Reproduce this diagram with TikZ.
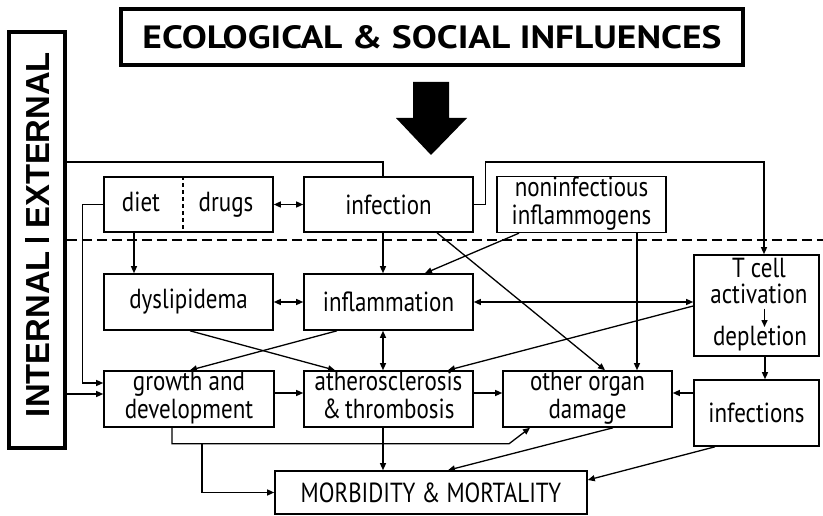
\documentclass[tikz,border=0pt]{standalone}
\usepackage{fontspec}
\setmainfont{PT Sans}
\newfontfamily\iefont{Liberation Sans}
\usetikzlibrary{arrows.meta}
\newcommand{\vs}[1]{\scalebox{1}[1.2]{#1}}
\newcommand{\vt}[1]{\scalebox{1}[1.2]{\begin{tabular}{@{}c@{}}#1\end{tabular}}}
\begin{document}
\begin{tikzpicture}[x=1pt,y=-1pt,
  txt/.style={inner sep=0pt,align=center,font=\fontsize{23}{23}\selectfont},
  box/.style={draw,line width=1.6pt,inner sep=0pt,align=center,font=\fontsize{23}{23}\selectfont},
  conn/.style={line width=1.3pt},
  arr/.style={conn,-{Triangle[length=7pt,width=6pt]}},
  darr/.style={conn,{Triangle[length=7pt,width=6pt]}-{Triangle[length=7pt,width=6pt]}}]
\useasboundingbox (0,0) rectangle (823,516);
% title and frame
\node[box,minimum width=622pt,minimum height=56pt,line width=3.5pt] (title) at (432,37)
  {\resizebox{579pt}{23pt}{\bfseries ECOLOGICAL \& SOCIAL INFLUENCES}};
\node[box,minimum width=56pt,minimum height=416pt,line width=3.5pt] (leftbox) at (37,240) {};
\node[rotate=90,inner sep=0pt] (ietext) at (37,234.5)
  {\resizebox{365pt}{24pt}{\iefont\bfseries INTERNAL\ \rule{0.13em}{0.72em}\ EXTERNAL}};
% big arrow
\fill (413,82) -- (449,82) -- (449,118) -- (467,118) -- (431,155) -- (396,118) -- (413,118) -- cycle;
% dashed line
\coordinate (dl) at (823,240);
\draw[conn,dash pattern=on 10pt off 5pt] (leftbox.east |- dl) -- (dl);
% boxes
\node[box,minimum width=169pt,minimum height=55pt] (dd) at (188.5,204.5) {};
\node[txt,anchor=base] (diet) at (141,212) {\vs{diet}};
\node[txt,anchor=base] (drugs) at (226,212) {\vs{drugs}};
\draw[conn,dash pattern=on 4pt off 3pt] ([xshift=-5.5pt]dd.north) -- ([xshift=-5.5pt]dd.south);
\node[box,minimum width=169pt,minimum height=55pt] (infection) at (388.5,204.5) {\vs{infection}};
\node[box,minimum width=169pt,minimum height=55pt] (noninf) at (581.5,204.5) {\vt{noninfectious\\inflammogens}};
\node[box,minimum width=169pt,minimum height=56pt] (dysl) at (188.5,302) {\vs{dyslipidema}};
\node[box,minimum width=169pt,minimum height=56pt] (inflam) at (388.5,302) {\vs{inflammation}};
\node[box,minimum width=170pt,minimum height=56pt] (growth) at (189,399) {\vt{growth and\\development}};
\node[box,minimum width=169pt,minimum height=56pt] (atheros) at (388.5,399) {\vt{atherosclerosis\\\&\,thrombosis}};
\node[box,minimum width=169pt,minimum height=56pt] (other) at (587.5,399) {\vt{other organ\\damage}};
\node[box,minimum width=125pt,minimum height=101pt] (tcell) at (756.5,305.5) {};
\node[txt,font=\fontsize{23}{18}\selectfont] (tca) at (759,284) {\vt{T cell\\activation}};
\node[txt] (tcd) at (760,338) {\vs{depletion}};
\node[box,minimum width=125pt,minimum height=66pt] (infections) at (756.5,413) {\vs{infections}};
\node[box,minimum width=312pt,minimum height=43pt] (morbidity) at (431,492.5) {\vs{MORBIDITY \& MORTALITY}};
% connectors
\coordinate (c162) at (0,162);
\draw[conn] (leftbox.east |- c162) -| ([xshift=-5.5pt]infection.north);
\coordinate (tcn) at ([xshift=7.5pt]tcell.north);
\draw[arr] (infection.east) -- ++(12,0) |- (c162 -| tcn) -- (tcn);
\draw[line width=1.5pt,-{Triangle[length=7pt,width=6pt]}] ([xshift=8pt,yshift=-3pt]tcell.center) -- ([xshift=8pt,yshift=-21.5pt]tcell.center);
\draw[darr] (dd.east) -- (infection.west);
\draw[arr] ([xshift=-54.5pt]dd.south) -- ([xshift=-54.5pt]dysl.north);
\draw[arr] (dd.west) -- ++(-21,0) |- ([yshift=16pt]growth.west);
\coordinate (g2) at ([yshift=5pt]growth.west);
\draw[arr] (leftbox.east |- g2) -- (g2);
\draw[arr] ([xshift=-5.5pt]infection.south) -- ([xshift=-5.5pt]inflam.north);
\draw[arr] ([xshift=48.5pt]infection.south) -- ([xshift=17.5pt]other.north);
\draw[arr] ([xshift=-62.5pt]noninf.south) -- ([xshift=36.5pt]inflam.north);
\draw[arr] ([xshift=55.5pt]noninf.south) -- ([xshift=49.5pt]other.north);
\draw[darr] (dysl.east) -- (inflam.west);
\draw[darr] (inflam.east) -- (inflam.east -| tcell.west);
\draw[arr] ([xshift=1.5pt]dysl.south) -- ([xshift=-53.5pt]atheros.north);
\draw[arr] ([xshift=-51.5pt]inflam.south) -- ([xshift=1pt]growth.north);
\draw[darr] ([xshift=-5.5pt]inflam.south) -- ([xshift=-5.5pt]atheros.north);
\draw[arr] ([yshift=-0.5pt]tcell.west) -- ([xshift=59.5pt]atheros.north);
\draw[arr] ([xshift=8.5pt]tcell.south) -- ([xshift=8.5pt]infections.north);
\coordinate (r393) at ([yshift=6pt]growth.east);
\draw[arr] (r393) -- (atheros.west |- r393);
\draw[arr] (atheros.east |- r393) -- (other.west |- r393);
\draw[arr] (infections.west |- r393) -- (other.east |- r393);
\coordinate (gb) at ([xshift=-17pt,yshift=-16pt]growth.south);
\draw[arr] ([xshift=-17pt]growth.south) -- (gb) -- ++(337,0) -- ([xshift=-57.5pt]other.south);
\coordinate (br) at ([xshift=13pt,yshift=-16pt]growth.south);
\draw[arr] (br) |- (morbidity.west);
\draw[arr] ([xshift=-5.5pt]atheros.south) -- ([xshift=-5.5pt]atheros.south |- morbidity.north);
\draw[arr] ([xshift=25.5pt]other.south) -- ([xshift=17pt]morbidity.north);
\draw[arr] ([xshift=-41.5pt]infections.south) -- ([yshift=12.5pt]morbidity.east);
\end{tikzpicture}
\end{document}
